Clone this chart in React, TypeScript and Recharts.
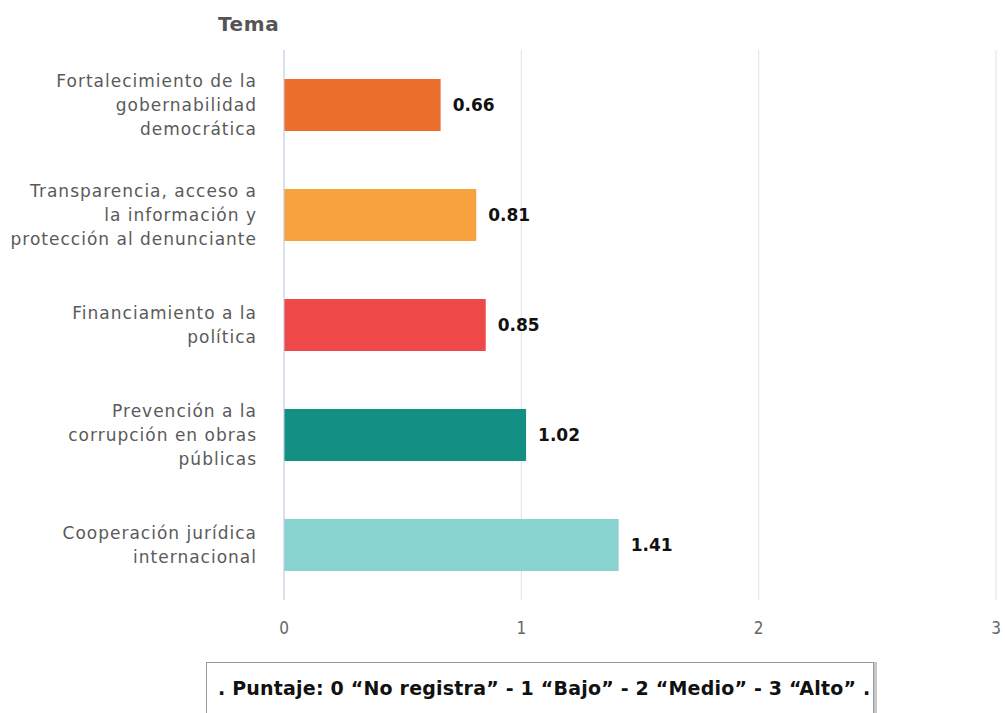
import React from "react";
import { Bar, BarChart, CartesianGrid, Cell, LabelList, XAxis, YAxis } from "recharts";

const temas = [
  "Fortalecimiento de la\ngobernabilidad\ndemocrática",
  "Transparencia, acceso a\nla información y\nprotección al denunciante",
  "Financiamiento a la\npolítica",
  "Prevención a la\ncorrupción en obras\npúblicas",
  "Cooperación jurídica\ninternacional",
];
const puntajes = [0.66, 0.81, 0.85, 1.02, 1.41];
const colores = ["#ec6f2d", "#f8a13f", "#ef4848", "#138f84", "#88d2cf"];
const xTicks = [0, 1, 2, 3];

const data = temas.map((tema, i) => ({ tema, puntaje: puntajes[i] }));

const labelFont = "'DejaVu Sans', sans-serif";

const TemaTick = (props: any) => {
  const { x, y, payload } = props;
  const lines = String(payload.value).split("\n");
  const lh = 24;
  const start = y - ((lines.length - 1) * lh) / 2;
  return (
    <text
      x={x}
      y={start}
      textAnchor="end"
      fill="#5a5a5a"
      fontSize={17}
      letterSpacing={1}
      fontFamily={labelFont}
    >
      {lines.map((l, i) => (
        <tspan key={i} x={x} y={start + i * lh} dy="0.35em">
          {l}
        </tspan>
      ))}
    </text>
  );
};

export default function App() {
  return (
    <div style={{ position: "absolute", left: 0, top: 0, width: 1005, height: 713, background: "#fff", overflow: "hidden" }}>
      <div
        style={{
          position: "absolute",
          left: 218,
          top: 12,
          fontFamily: labelFont,
          fontWeight: "bold",
          fontSize: 20,
          letterSpacing: 0.6,
          color: "#555",
        }}
      >
        Tema
      </div>
      <BarChart
        width={1005}
        height={713}
        data={data}
        layout="vertical"
        margin={{ top: 50, right: 9, bottom: 63, left: 0 }}
        barCategoryGap={29}
      >
        <CartesianGrid horizontal={false} stroke="#dde1ea" />
        <XAxis
          type="number"
          domain={[0, 3]}
          ticks={xTicks}
          axisLine={false}
          tickLine={false}
          tickSize={0}
          tickMargin={22}
          height={50}
          tick={{ fill: "#666", fontSize: 17, fontFamily: "'Liberation Sans Narrow', 'DejaVu Sans Condensed', sans-serif" }}
        />
        <YAxis
          type="category"
          dataKey="tema"
          width={284}
          axisLine={{ stroke: "#c6d1e8" }}
          tickLine={false}
          tickSize={0}
          tickMargin={27}
          tick={<TemaTick />}
        />
        <Bar dataKey="puntaje" barSize={52} isAnimationActive={false}>
          {data.map((d, i) => (
            <Cell key={d.tema} fill={colores[i]} />
          ))}
          <LabelList
            dataKey="puntaje"
            position="right"
            offset={12}
            formatter={(v: any) => Number(v).toFixed(2)}
            style={{ fill: "#111", fontWeight: "bold", fontSize: 17, fontFamily: labelFont }}
          />
        </Bar>
      </BarChart>
      <div
        style={{
          position: "absolute",
          left: 206,
          top: 662,
          width: 668,
          height: 70,
          border: "1px solid #999",
          boxShadow: "3px 0 0 #c8c8c8",
          boxSizing: "border-box",
        }}
      />
      <div
        style={{
          position: "absolute",
          left: 218,
          top: 677,
          whiteSpace: "nowrap",
          fontFamily: labelFont,
          fontWeight: "bold",
          fontSize: 19,
          letterSpacing: 0.2,
          color: "#111",
        }}
      >
        . Puntaje: 0 “No registra” - 1 “Bajo” - 2 “Medio” - 3 “Alto” .
      </div>
    </div>
  );
}
